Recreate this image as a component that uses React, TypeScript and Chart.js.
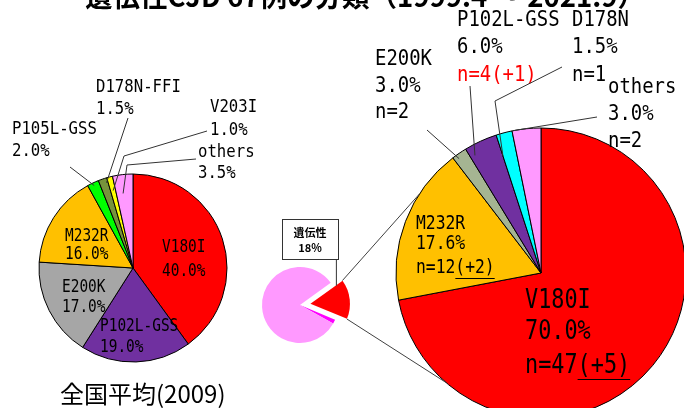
import React, { useEffect, useRef } from "react";
import { Chart, registerables } from "chart.js";

Chart.register(...registerables);

const W = 684;
const H = 408;

// ---------------- data ----------------
const TITLE = "遺伝性CJD 67例の分類（1999.4 ～ 2021.9）";
const NATIONAL_CAPTION = "全国平均(2009)";

const nationalLabels = ["V180I", "P102L-GSS", "E200K", "M232R", "P105L-GSS", "D178N-FFI", "V203I", "others"];
const nationalValues = [40.0, 19.0, 17.0, 16.0, 2.0, 1.5, 1.0, 3.5];
const nationalPctText = ["40.0%", "19.0%", "17.0%", "16.0%", "2.0%", "1.5%", "1.0%", "3.5%"];

const shareLabels = ["遺伝性", "B", "C"];
const shareValues = [16.3, 1.8, 81.9];
const shareText = ["遺伝性", "18%"];

const caseLabels = ["V180I", "M232R", "E200K", "P102L-GSS", "D178N", "others"];
const caseValues = [72.0, 17.6, 1.7, 3.7, 1.8, 3.2];
const casePctText = ["70.0%", "17.6%", "3.0%", "6.0%", "1.5%", "3.0%"];
const caseCountText = ["n=47", "n=12", "n=2", "n=4", "n=1", "n=2"];
const caseAddedText = ["(+5)", "(+2)", "", "(+1)", "", ""];

// ---------------- styles ----------------
const nationalColors = ["#FF0000", "#7030A0", "#A6A6A6", "#FFC000", "#00FF00", "#77933C", "#FFFF00", "#FF99FF"];
const shareColors = ["#FF0000", "#FF00FF", "#FF99FF"];
const caseColors = ["#FF0000", "#FFC000", "#A5B592", "#7030A0", "#00FFFF", "#FF99FF"];

const MONO = '"DejaVu Sans Mono", "Liberation Mono", monospace';
const JP = '"Noto Sans CJK JP", "Noto Sans CJK SC", sans-serif';
const LINE = "#333333";

type Leader = { from: number[][]; af: number; rf: number };
type LabelSpec = {
  x: number;
  ys: number[];
  size: number;
  sx: number;
  leader?: Leader;
  countColor?: string;
  underline?: boolean;
};

const nationalLayout: LabelSpec[] = [
  { x: 162, ys: [248, 272], size: 17, sx: 0.85 },
  { x: 100, ys: [327, 348], size: 17, sx: 0.85 },
  { x: 62, ys: [288, 308], size: 17, sx: 0.85 },
  { x: 65, ys: [237, 255], size: 17, sx: 0.85 },
  { x: 12, ys: [129, 151], size: 18, sx: 0.87, leader: { from: [[70, 167]], af: 0.5, rf: 0.97 } },
  { x: 96, ys: [87.5, 109], size: 18, sx: 0.87, leader: { from: [[128, 118]], af: 0.8, rf: 0.95 } },
  { x: 210, ys: [107.5, 130], size: 18, sx: 0.87, leader: { from: [[207, 131], [124, 156]], af: 0.5, rf: 0.85 } },
  { x: 198, ys: [152.5, 173], size: 18, sx: 0.87, leader: { from: [[196, 159], [127, 165]], af: 0.4, rf: 0.8 } },
];

const caseLayout: LabelSpec[] = [
  { x: 525, ys: [301, 332.5, 366], size: 26, sx: 0.84, underline: true },
  { x: 416, ys: [224, 244, 268], size: 19, sx: 0.86, underline: true },
  { x: 375, ys: [59, 86, 112.5], size: 22, sx: 0.86, leader: { from: [[427, 130]], af: 0.3, rf: 0.97 } },
  { x: 457, ys: [20, 47.5, 75], size: 22, sx: 0.86, countColor: "#FF0000", leader: { from: [[470, 86]], af: 0.15, rf: 0.93 } },
  { x: 572, ys: [20, 47.5, 75], size: 22, sx: 0.86, leader: { from: [[562, 67], [495, 101]], af: 0.0, rf: 0.85 } },
  { x: 608, ys: [87.5, 114, 141], size: 22, sx: 0.86, leader: { from: [[597, 117]], af: 0.05, rf: 1.0 } },
];

const LEFT_PIE = { cx: 133, cy: 268, r: 94 };
const SMALL_PIE = { cx: 300, cy: 305, r: 38, rotation: 54 };
const BIG_PIE = { cx: 541, cy: 273, r: 145 };
const LINK_ANGLES = [-147, 131];

// ---------------- helpers ----------------
function padFor(cx: number, cy: number) {
  const half = Math.max(Math.min(cx, W - cx, cy, H - cy) - 1, 5);
  return { left: cx - half, right: W - (cx + half), top: cy - half, bottom: H - (cy + half) };
}

function arcGeom(chart: Chart, i: number) {
  const el: any = chart.getDatasetMeta(0).data[i];
  const p = el.getProps(["x", "y", "startAngle", "endAngle", "outerRadius"], true);
  const off = ((el.options && el.options.offset) || 0) / 4;
  const half = (p.startAngle + p.endAngle) / 2;
  const circ = p.endAngle - p.startAngle;
  const fix = 1 - Math.sin(Math.min(Math.PI, circ));
  return {
    x: p.x + Math.cos(half) * off,
    y: p.y + Math.sin(half) * off,
    r: p.outerRadius + off * fix,
    start: p.startAngle,
    end: p.endAngle,
  };
}

function pointIn(chart: Chart, i: number, af: number, rf: number) {
  const g = arcGeom(chart, i);
  const a = g.start + (g.end - g.start) * af;
  return [g.x + Math.cos(a) * g.r * rf, g.y + Math.sin(a) * g.r * rf];
}

function drawText(
  ctx: CanvasRenderingContext2D,
  s: string,
  x: number,
  y: number,
  font: string,
  color: string,
  sx = 1,
  align: CanvasTextAlign = "left",
  baseline: CanvasTextBaseline = "middle",
  maxWidth?: number
) {
  ctx.save();
  ctx.font = font;
  ctx.fillStyle = color;
  ctx.textAlign = align;
  ctx.textBaseline = baseline;
  ctx.translate(x, y);
  ctx.scale(sx, 1);
  if (maxWidth) ctx.fillText(s, 0, 0, maxWidth / sx);
  else ctx.fillText(s, 0, 0);
  const w = ctx.measureText(s).width * sx;
  ctx.restore();
  return w;
}

function measure(ctx: CanvasRenderingContext2D, s: string, font: string, sx = 1) {
  ctx.save();
  ctx.font = font;
  const w = ctx.measureText(s).width * sx;
  ctx.restore();
  return w;
}

function polyline(ctx: CanvasRenderingContext2D, pts: number[][], color = LINE, w = 1) {
  ctx.save();
  ctx.strokeStyle = color;
  ctx.lineWidth = w;
  ctx.beginPath();
  pts.forEach((p, k) => (k === 0 ? ctx.moveTo(p[0], p[1]) : ctx.lineTo(p[0], p[1])));
  ctx.stroke();
  ctx.restore();
}

function pieConfig(
  labels: string[],
  values: number[],
  colors: string[],
  geo: { cx: number; cy: number; r: number; rotation?: number },
  ds: any,
  plugin: any
): any {
  return {
    type: "pie",
    data: {
      labels,
      datasets: [
        {
          data: values,
          backgroundColor: colors,
          clip: false,
          ...ds,
        },
      ],
    },
    options: {
      animation: false,
      responsive: false,
      radius: geo.r,
      rotation: geo.rotation || 0,
      layout: { padding: padFor(geo.cx, geo.cy) },
      plugins: { legend: { display: false }, tooltip: { enabled: false } },
      events: [],
    },
    plugins: [plugin],
  };
}

// ---------------- component ----------------
export default function App() {
  const leftRef = useRef<HTMLCanvasElement>(null);
  const smallRef = useRef<HTMLCanvasElement>(null);
  const bigRef = useRef<HTMLCanvasElement>(null);

  useEffect(() => {
    const charts: Chart[] = [];

    const leftPlugin = {
      id: "leftLabels",
      afterDatasetsDraw(chart: Chart) {
        const ctx = chart.ctx;
        drawText(ctx, TITLE, 85, 7, `bold 28px ${JP}`, "#000", 1, "left", "alphabetic", 560);
        drawText(ctx, NATIONAL_CAPTION, 60, 403, `24px ${JP}`, "#000", 1, "left", "alphabetic", 181);
        nationalLabels.forEach((lab, i) => {
          const L = nationalLayout[i];
          const font = `${L.size}px ${MONO}`;
          drawText(ctx, lab, L.x, L.ys[0], font, "#000", L.sx);
          drawText(ctx, nationalPctText[i], L.x, L.ys[1], font, "#000", L.sx);
          if (L.leader) {
            const end = pointIn(chart, i, L.leader.af, L.leader.rf);
            polyline(ctx, [...L.leader.from, end]);
          }
        });
      },
    };

    const bigPlugin = {
      id: "bigLabels",
      afterDatasetsDraw(chart: Chart) {
        const ctx = chart.ctx;
        caseLabels.forEach((lab, i) => {
          const L = caseLayout[i];
          const font = `${L.size}px ${MONO}`;
          drawText(ctx, lab, L.x, L.ys[0], font, "#000", L.sx);
          drawText(ctx, casePctText[i], L.x, L.ys[1], font, "#000", L.sx);
          const third = caseCountText[i] + caseAddedText[i];
          drawText(ctx, third, L.x, L.ys[2], font, L.countColor || "#000", L.sx);
          if (L.underline && caseAddedText[i]) {
            const w0 = measure(ctx, caseCountText[i], font, L.sx);
            const w1 = measure(ctx, third, font, L.sx);
            const uy = Math.round(L.ys[2] + 0.5 * L.size) + 0.5;
            polyline(ctx, [[L.x + w0, uy], [L.x + w1, uy]], "#000", 1);
          }
          if (L.leader) {
            const end = pointIn(chart, i, L.leader.af, L.leader.rf);
            polyline(ctx, [...L.leader.from, end]);
          }
        });
      },
    };

    let bigChart: Chart | null = null;

    const smallPlugin = {
      id: "smallLabels",
      afterDatasetsDraw(chart: Chart) {
        const ctx = chart.ctx;
        const g = arcGeom(chart, 0);
        const c1 = [g.x + Math.cos(g.start) * g.r, g.y + Math.sin(g.start) * g.r];
        const c2 = [g.x + Math.cos(g.end) * g.r, g.y + Math.sin(g.end) * g.r];
        if (bigChart) {
          const b: any = bigChart.getDatasetMeta(0).data[0];
          const bp = b.getProps(["x", "y", "outerRadius"], true);
          const a1 = (LINK_ANGLES[0] * Math.PI) / 180;
          const a2 = (LINK_ANGLES[1] * Math.PI) / 180;
          polyline(ctx, [c1, [bp.x + Math.cos(a1) * bp.outerRadius, bp.y + Math.sin(a1) * bp.outerRadius]], "#404040");
          polyline(ctx, [c2, [bp.x + Math.cos(a2) * bp.outerRadius, bp.y + Math.sin(a2) * bp.outerRadius]], "#404040");
        }
        // callout box
        ctx.save();
        ctx.fillStyle = "#fff";
        ctx.fillRect(282, 219, 56, 40);
        ctx.strokeStyle = LINE;
        ctx.lineWidth = 1;
        ctx.strokeRect(282.5, 219.5, 56, 40);
        ctx.restore();
        drawText(ctx, shareText[0], 310, 233, `bold 11px ${JP}`, "#000", 1, "center");
        drawText(ctx, shareText[1], 310, 248, `bold 11px ${JP}`, "#000", 1, "center");
        const pt = pointIn(chart, 0, 0.02, 0.8);
        polyline(ctx, [[pt[0], 259.5], pt]);
      },
    };

    if (leftRef.current) {
      charts.push(
        new Chart(
          leftRef.current,
          pieConfig(nationalLabels, nationalValues, nationalColors, LEFT_PIE, { borderColor: "#000", borderWidth: 1 }, leftPlugin)
        )
      );
    }
    if (bigRef.current) {
      bigChart = new Chart(
        bigRef.current,
        pieConfig(caseLabels, caseValues, caseColors, BIG_PIE, { borderColor: "#000", borderWidth: 1 }, bigPlugin)
      );
      charts.push(bigChart);
    }
    if (smallRef.current) {
      charts.push(
        new Chart(
          smallRef.current,
          pieConfig(shareLabels, shareValues, shareColors, SMALL_PIE, { borderWidth: 0, offset: [42, 0, 0] }, smallPlugin)
        )
      );
    }

    return () => {
      charts.forEach((c) => c.destroy());
    };
  }, []);

  const canvasStyle: React.CSSProperties = { position: "absolute", left: 0, top: 0, width: W, height: H };

  return (
    <div style={{ position: "fixed", left: 0, top: 0, width: W, height: H, overflow: "hidden", background: "#fff" }}>
      <canvas ref={leftRef} width={W} height={H} style={canvasStyle} />
      <canvas ref={bigRef} width={W} height={H} style={canvasStyle} />
      <canvas ref={smallRef} width={W} height={H} style={canvasStyle} />
    </div>
  );
}
